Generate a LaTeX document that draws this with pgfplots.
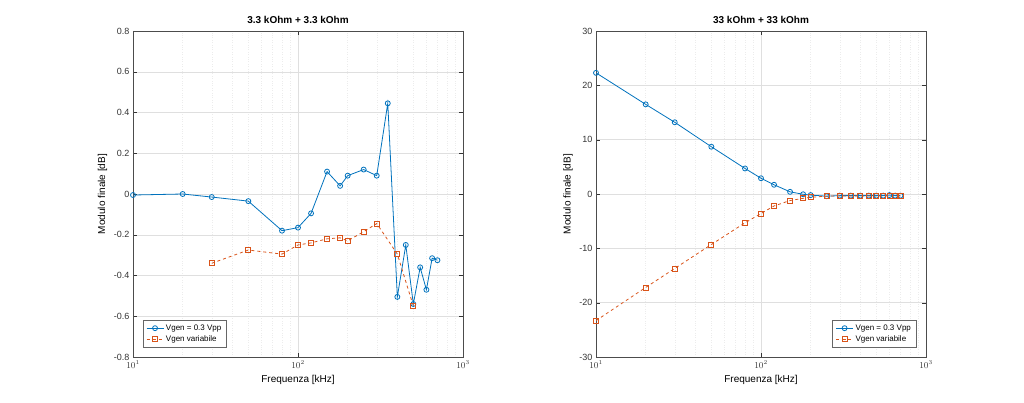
\documentclass[border=0pt]{standalone}
\usepackage{pgfplots}
\pgfplotsset{compat=1.18}
\usepackage{fontspec}
\setmainfont{Liberation Sans}
\definecolor{mb}{RGB}{0,114,189}
\definecolor{mo}{RGB}{217,83,25}
\pgfplotsset{
 myaxis/.style={scale only axis, width=330pt, height=326pt,
  xmin=10, xmax=1000, xtick={10,100,1000},
  grid=both, major grid style={gray!25}, minor grid style={gray!15, dotted},
  tick style={black!80}, axis line style={black!70},
  tick label style={font=\fontsize{9}{10}\selectfont, black!80},
  label style={font=\fontsize{10}{12}\selectfont},
  title style={font=\bfseries\fontsize{10}{12}\selectfont, yshift=-2pt},
  xlabel={Frequenza [kHz]}, ylabel={Modulo finale [dB]},
  legend style={font=\fontsize{8}{9}\selectfont, draw=black!60, cells={anchor=west}},
  legend cell align=left,
  tick align=inside, minor tick length=0pt,
  yticklabel style={/pgf/number format/assume math mode=true},
 },
 myb/.style={mb, thick, mark=o, mark size=2.5pt, mark options={solid}},
 myo/.style={mo, thick, dashed, mark=square, mark size=2.5pt, mark options={solid}},
}
\begin{document}
\begin{tikzpicture}[x=1pt,y=1pt]
\useasboundingbox (0,0) rectangle (1024,402);
\begin{axis}[xmode=log, myaxis, at={(133pt,45pt)}, ymin=-0.8, ymax=0.8, ytick={-0.8,-0.6,...,0.8},
 yticklabel style={/pgf/number format/fixed, /pgf/number format/precision=1},
 title={3.3 kOhm + 3.3 kOhm}, legend pos=south west]
\addplot[myb] coordinates {(10,-0.005)(20,0.0)(30,-0.015)(50,-0.035)(80,-0.18)(100,-0.165)(120,-0.095)(150,0.11)(180,0.04)(200,0.09)(250,0.12)(300,0.09)(350,0.445)(400,-0.505)(450,-0.25)(500,-0.54)(550,-0.36)(600,-0.47)(650,-0.315)(700,-0.325)};
\addplot[myo] coordinates {(30,-0.34)(50,-0.275)(80,-0.295)(100,-0.25)(120,-0.24)(150,-0.22)(180,-0.215)(200,-0.23)(250,-0.185)(300,-0.145)(400,-0.295)(500,-0.55)};
\legend{Vgen = 0.3 Vpp, Vgen variabile}
\end{axis}
\begin{axis}[xmode=log, myaxis, at={(596pt,45pt)}, ymin=-30, ymax=30, ytick={-30,-20,...,30},
 title={33 kOhm + 33 kOhm}, legend pos=south east]
\addplot[myb] coordinates {(10,22.3)(20,16.5)(30,13.2)(50,8.7)(80,4.7)(100,2.9)(120,1.7)(150,0.4)(180,-0.05)(200,-0.2)(250,-0.4)(300,-0.3)(350,-0.3)(400,-0.3)(450,-0.3)(500,-0.3)(550,-0.3)(600,-0.2)(650,-0.3)(700,-0.3)};
\addplot[myo] coordinates {(10,-23.3)(20,-17.2)(30,-13.7)(50,-9.3)(80,-5.3)(100,-3.6)(120,-2.2)(150,-1.2)(180,-0.8)(200,-0.6)(250,-0.4)(300,-0.35)(350,-0.35)(400,-0.35)(450,-0.35)(500,-0.35)(550,-0.35)(600,-0.35)(650,-0.35)(700,-0.35)};
\legend{Vgen = 0.3 Vpp, Vgen variabile}
\end{axis}
\end{tikzpicture}
\end{document}
